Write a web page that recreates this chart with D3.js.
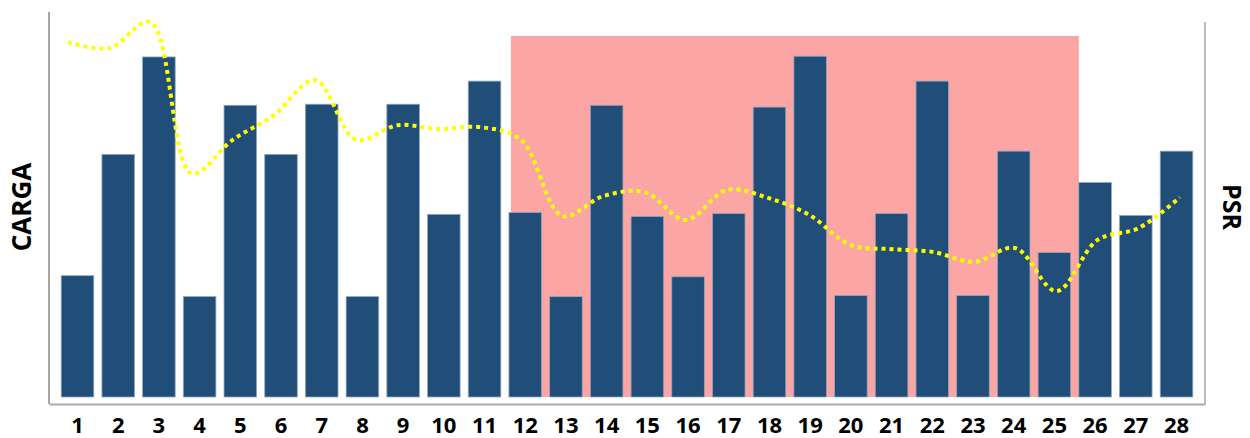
<!DOCTYPE html>
<html>
<head>
<meta charset="utf-8">
<script src="https://cdn.jsdelivr.net/npm/d3@7"></script>
<style>
	body { margin: 0; background: #fff; }
	svg { display: block; }
	.tick text { font-family: 'Open Sans', 'Liberation Sans', sans-serif; font-weight: 700; }
</style>
</head>
<body>
<svg id="chart" width="1250" height="438"></svg>
<script>
// data
const days = d3.range(1, 29);

const carga = [
	33.6, 67.2, 94.2, 27.8, 80.8, 67.2, 81.1, 27.8, 81.1, 50.6,
	87.5, 51.1, 27.8, 80.8, 50.0, 33.3, 50.8, 80.3, 94.4, 28.1,
	50.8, 87.5, 28.1, 68.1, 40.0, 59.4, 50.3, 68.1
];

const psr = [
	92.2, 90.6, 97.4, 58.0, 66.8, 73.2, 82.3, 66.8, 70.6, 69.6,
	70.1, 66.8, 47.0, 52.2, 53.2, 46.0, 53.8, 51.7, 47.3, 39.5,
	38.4, 37.7, 35.1, 38.7, 27.5, 40.8, 43.9, 51.9
];

// highlighted span of days
const highlight = [12, 25];

const tickLabels = days.map(String);

// layout
const left = 49, right = 1205, bottom = 404, base = 397;

const svg = d3.select('#chart');

const xScale = d3.scaleBand()
	.domain(days)
	.range([left, right])
	.paddingInner(0.2)
	.paddingOuter(0.3);

const lineX = d3.scalePoint()
	.domain(days)
	.range([68, 1180]);

const yScale = d3.scaleLinear()
	.domain([0, 100])
	.range([base, 36]);

const y2Scale = d3.scaleLinear()
	.domain([0, 100])
	.range([base, 12]);

// highlight band
const step = xScale.step();
const hx0 = xScale(highlight[0]) + 2;
svg.append('rect')
	.attr('x', hx0)
	.attr('y', yScale(100))
	.attr('width', xScale(highlight[1]) + xScale.bandwidth() + step * 0.2 - hx0)
	.attr('height', yScale(0) - yScale(100))
	.attr('fill', '#fca5a5');

// bars
svg.append('g')
	.selectAll('rect')
	.data(days)
	.join('rect')
		.attr('x', d => xScale(d))
		.attr('y', (d, i) => yScale(carga[i]))
		.attr('width', xScale.bandwidth())
		.attr('height', (d, i) => yScale(0) - yScale(carga[i]))
		.attr('fill', '#214e78')
		.attr('stroke', '#8ea6bf')
		.attr('stroke-width', 0.8);

// psr line
const line = d3.line()
	.x((d, i) => lineX(days[i]))
	.y(d => y2Scale(d))
	.curve(d3.curveCatmullRom.alpha(0.5));

svg.append('path')
	.datum(psr)
	.attr('d', line)
	.attr('fill', 'none')
	.attr('stroke', '#ffff00')
	.attr('stroke-width', 4)
	.attr('stroke-dasharray', '4,4');

// axes
const xAxis = d3.axisBottom(xScale)
	.tickSize(0)
	.tickSizeOuter(0)
	.tickPadding(13)
	.tickFormat((d, i) => tickLabels[i]);

svg.append('g')
	.attr('transform', `translate(0, ${bottom})`)
	.call(xAxis)
	.call(g => g.select('.domain').attr('stroke', '#aaa').attr('stroke-width', 2))
	.call(g => g.selectAll('.tick text')
		.attr('font-size', 22)
		.attr('fill', '#000'));

svg.append('line')
	.attr('x1', left).attr('x2', left)
	.attr('y1', 12).attr('y2', bottom)
	.attr('stroke', '#888')
	.attr('stroke-width', 1.5);

svg.append('line')
	.attr('x1', right).attr('x2', right)
	.attr('y1', 22).attr('y2', bottom)
	.attr('stroke', '#bbb')
	.attr('stroke-width', 2);

// axis titles
svg.append('text')
	.attr('transform', `translate(31, 207) rotate(-90)`)
	.attr('text-anchor', 'middle')
	.attr('font-family', "'Open Sans', 'Liberation Sans', sans-serif")
	.attr('font-weight', 700)
	.attr('font-size', 26)
	.text('CARGA');

svg.append('text')
	.attr('transform', `translate(1223, 207) rotate(90)`)
	.attr('text-anchor', 'middle')
	.attr('font-family', "'Open Sans', 'Liberation Sans', sans-serif")
	.attr('font-weight', 700)
	.attr('font-size', 25)
	.text('PSR');
</script>
</body>
</html>
